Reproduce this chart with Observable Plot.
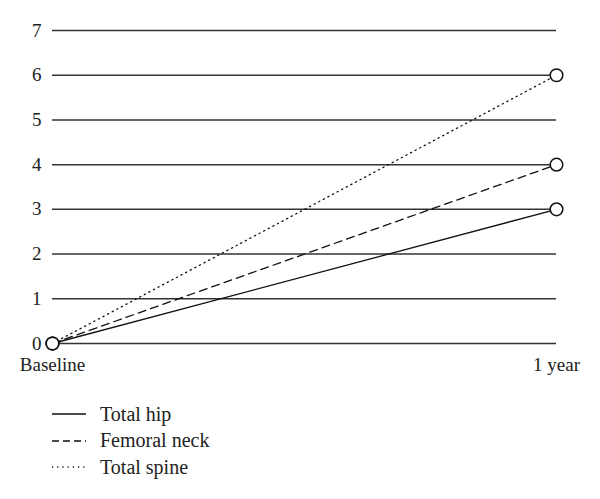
<!DOCTYPE html>
<html>
<head>
<meta charset="utf-8">
<script src="https://cdn.jsdelivr.net/npm/d3@7"></script>
<script src="https://cdn.jsdelivr.net/npm/@observablehq/plot@0.6"></script>
<style>
  body { margin: 0; background: #fff; font-family: "Liberation Serif", "DejaVu Serif", serif; }
  #chart { position: relative; width: 600px; height: 499px; }
  #legend { position: absolute; left: 52px; top: 401px; font-size: 20px; color: #222; }
  .row { display: flex; align-items: center; height: 26.5px; }
  .row svg { margin-right: 14px; }
</style>
</head>
<body>
<div id="chart"></div>
<script>
const timepoints = ["Baseline", "1 year"];
const seriesNames = ["Total hip", "Femoral neck", "Total spine"];
const totalHip = [0, 3];
const femoralNeck = [0, 4];
const totalSpine = [0, 6];
const yTicks = [0, 1, 2, 3, 4, 5, 6, 7];
const dashes = { "Total hip": null, "Femoral neck": "8,5", "Total spine": "1.2,4" };

const seriesValues = [totalHip, femoralNeck, totalSpine];
const data = [];
seriesNames.forEach((s, i) => timepoints.forEach((t, j) => data.push({ series: s, time: t, value: seriesValues[i][j] })));

const plot = Plot.plot({
  width: 600,
  height: 380,
  marginLeft: 52,
  marginRight: 44,
  marginTop: 30,
  marginBottom: 37,
  style: { fontFamily: "'Liberation Serif', 'DejaVu Serif', serif", fontSize: "19px", color: "#222", background: "#fff" },
  x: { type: "point", domain: timepoints, padding: 0, label: null },
  y: { domain: [0, 7], label: null },
  marks: [
    Plot.ruleY(yTicks, { stroke: "#333", strokeWidth: 1.5 }),
    Plot.axisY({ ticks: yTicks, tickSize: 0, tickPadding: 11, label: null, tickFormat: d => d, fontSize: 19 }),
    Plot.axisX({ tickSize: 0, tickPadding: 14, label: null, fontSize: 19 }),
    ...seriesNames.map(s => Plot.line(data.filter(d => d.series === s), {
      x: "time", y: "value", stroke: "#111", strokeWidth: 1.3,
      strokeDasharray: dashes[s]
    })),
    Plot.dot(data, { x: "time", y: "value", r: 6.3, fill: "white", stroke: "#111", strokeWidth: 1.5 })
  ]
});
document.getElementById("chart").appendChild(plot);

const legend = document.createElement("div");
legend.id = "legend";
seriesNames.forEach(s => {
  const row = document.createElement("div");
  row.className = "row";
  const dash = dashes[s] ? ` stroke-dasharray="${dashes[s] === "8,5" ? "7,4" : "1.2,4"}"` : "";
  row.innerHTML = `<svg width="34" height="10"><line x1="0" x2="34" y1="5" y2="5" stroke="#111" stroke-width="1.4"${dash}/></svg><span>${s}</span>`;
  legend.appendChild(row);
});
document.getElementById("chart").appendChild(legend);
</script>
</body>
</html>
